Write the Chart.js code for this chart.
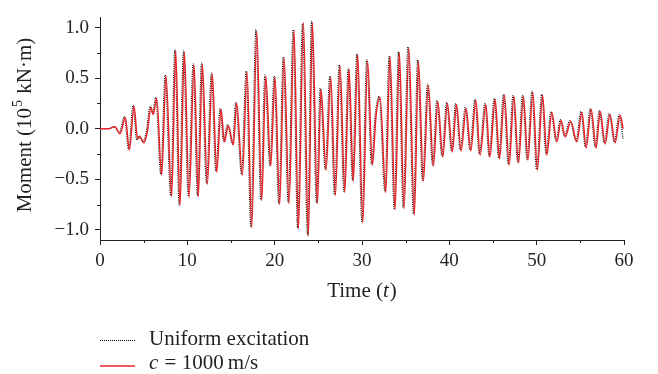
<!DOCTYPE html>
<html>
<head>
<meta charset="utf-8">
<script src="https://cdn.jsdelivr.net/npm/chart.js@4/dist/chart.umd.min.js"></script>
<style>
  html, body { margin: 0; padding: 0; background: #fff; }
  #chart { display: block; }
</style>
</head>
<body>
<canvas id="chart" width="658" height="374"></canvas>
<script>
// Peaks / troughs (time in s, moment in 10^5 kN·m)
const waveT = [0, 1.0, 1.7, 2.3, 2.9, 3.36, 3.9, 4.3, 4.6, 5.0, 5.4, 5.84, 6.1, 6.49, 7.06, 7.56, 8.2, 8.67, 9.16, 9.66,
  10.2, 10.77, 11.26, 11.72, 12.29, 12.86, 13.36, 13.86, 14.24, 14.7, 15.27, 15.65, 16.3, 16.84, 17.37, 17.95, 18.52, 18.98, 19.55,
  20.04, 20.57, 21.08, 21.65, 22.22, 22.72, 23.29, 23.86, 24.32, 24.89, 25.31, 25.89, 26.42, 26.95, 27.49, 28.03, 28.52, 29.01, 29.51,
  30.09, 30.64, 31.19, 31.6, 32.07, 32.72, 33.21, 33.79, 34.28, 34.82, 35.36, 36.0, 36.46, 37.03, 37.6, 38.18, 38.68, 39.25, 39.78,
  40.35, 40.82, 41.35, 41.92, 42.46, 43.03, 43.53, 44.18, 44.64, 45.25, 45.74, 46.31, 46.85, 47.39, 47.92, 48.49, 48.99, 49.56,
  50.08, 50.68, 51.17, 51.74, 52.31, 52.8, 53.26, 53.91, 54.6, 55.18, 55.67, 56.24, 56.81, 57.27, 57.84, 58.4, 58.98, 59.56, 59.9];
const waveV = [0, 0, 0.02, -0.05, 0.11, -0.21, 0.22, -0.10, -0.08, -0.14, -0.04, 0.21, 0.14, 0.30, -0.46, 0.52, -0.67, 0.77, -0.76, 0.76,
  -0.68, 0.63, -0.67, 0.64, -0.55, 0.54, -0.43, 0.19, -0.13, 0.03, -0.16, 0.25, -0.46, 0.56, -0.98, 0.96, -0.71, 0.52, -0.37,
  0.51, -0.75, 0.70, -0.74, 0.97, -0.99, 1.05, -1.06, 1.05, -0.74, 0.39, -0.41, 0.51, -0.66, 0.62, -0.63, 0.59, -0.52, 0.73,
  -0.93, 0.67, -0.36, 0.12, 0.31, -0.63, 0.71, -0.80, 0.75, -0.79, 0.80, -0.85, 0.67, -0.52, 0.43, -0.37, 0.27, -0.28, 0.25,
  -0.23, 0.24, -0.22, 0.20, -0.22, 0.28, -0.26, 0.24, -0.28, 0.29, -0.30, 0.33, -0.36, 0.32, -0.34, 0.32, -0.31, 0.36,
  -0.41, 0.33, -0.26, 0.16, -0.13, 0.08, -0.08, 0.07, -0.13, 0.16, -0.19, 0.19, -0.19, 0.17, -0.15, 0.14, -0.14, 0.13, 0.0];

const uniformT = [0, 1.0, 1.6, 2.2, 2.8, 3.26, 3.8, 4.2, 4.5, 4.9, 5.3, 5.74, 6.0, 6.39, 6.96, 7.46, 8.1, 8.57, 9.06, 9.56,
  10.1, 10.67, 11.16, 11.62, 12.19, 12.76, 13.26, 13.76, 14.14, 14.6, 15.17, 15.55, 16.2, 16.74, 17.27, 17.85, 18.42, 18.88, 19.45,
  19.94, 20.47, 20.98, 21.55, 22.12, 22.62, 23.19, 23.76, 24.22, 24.79, 25.21, 25.79, 26.32, 26.85, 27.39, 27.93, 28.42, 28.91, 29.41,
  29.99, 30.54, 31.09, 31.5, 31.97, 32.62, 33.11, 33.69, 34.18, 34.72, 35.26, 35.9, 36.36, 36.93, 37.5, 38.08, 38.58, 39.15, 39.68,
  40.25, 40.72, 41.25, 41.82, 42.36, 42.93, 43.43, 44.08, 44.54, 45.15, 45.64, 46.21, 46.75, 47.29, 47.82, 48.39, 48.89, 49.46,
  49.98, 50.58, 51.07, 51.64, 52.21, 52.7, 53.16, 53.81, 54.5, 55.08, 55.57, 56.14, 56.71, 57.17, 57.74, 58.3, 58.88, 59.46, 59.9];
const uniformV = [0, 0, 0.02, -0.04, 0.12, -0.20, 0.23, -0.11, -0.07, -0.13, -0.03, 0.22, 0.15, 0.31, -0.45, 0.53, -0.66, 0.78, -0.75, 0.77,
  -0.66, 0.64, -0.66, 0.65, -0.54, 0.55, -0.42, 0.20, -0.12, 0.04, -0.15, 0.26, -0.45, 0.57, -0.97, 0.98, -0.70, 0.53, -0.36,
  0.52, -0.74, 0.71, -0.73, 0.98, -0.98, 1.04, -1.05, 1.06, -0.73, 0.40, -0.40, 0.52, -0.65, 0.63, -0.62, 0.60, -0.51, 0.74,
  -0.92, 0.68, -0.35, 0.13, 0.32, -0.62, 0.72, -0.79, 0.76, -0.78, 0.81, -0.84, 0.68, -0.51, 0.44, -0.36, 0.28, -0.27, 0.26,
  -0.22, 0.25, -0.21, 0.21, -0.21, 0.29, -0.25, 0.25, -0.27, 0.30, -0.29, 0.34, -0.35, 0.33, -0.33, 0.33, -0.30, 0.37,
  -0.40, 0.34, -0.25, 0.17, -0.12, 0.09, -0.07, 0.08, -0.12, 0.17, -0.18, 0.20, -0.18, 0.18, -0.14, 0.15, -0.13, 0.14, -0.10];

const xMajor = [0, 10, 20, 30, 40, 50, 60];
const xMinor = [5, 15, 25, 35, 45, 55];
const yMajor = [-1.0, -0.5, 0.0, 0.5, 1.0];
const yMinor = [-0.75, -0.25, 0.25, 0.75];

const FONT = "'Liberation Serif', 'DejaVu Serif', serif";
const INK = '#231f20';

const pts = (t, v) => t.map((x, i) => ({ x, y: v[i] }));

// minor ticks, axis titles and the stacked legend
const extras = {
  id: 'extras',
  afterDraw(chart) {
    const { ctx, scales: { x, y } } = chart;
    ctx.save();
    ctx.strokeStyle = INK;
    ctx.lineWidth = 1;
    ctx.beginPath();
    xMinor.forEach(v => {
      const px = Math.round(x.getPixelForValue(v)) + 0.5;
      ctx.moveTo(px, x.top); ctx.lineTo(px, x.top + 3);
    });
    yMinor.forEach(v => {
      const py = Math.round(y.getPixelForValue(v)) + 0.5;
      ctx.moveTo(y.right, py); ctx.lineTo(y.right - 3, py);
    });
    ctx.stroke();

    ctx.fillStyle = INK;
    ctx.textBaseline = 'middle';
    ctx.textAlign = 'left';

    const f = '21px ' + FONT, fi = 'italic 21px ' + FONT, fs = '14px ' + FONT;

    // x title: Time (t)
    ctx.font = f;
    const a = 'Time (', c = ')';
    const wa = ctx.measureText(a).width, wc = ctx.measureText(c).width;
    ctx.font = fi;
    const wb = ctx.measureText('t').width + 1;
    const sx = 362 - (wa + wb + wc) / 2;
    ctx.font = f; ctx.fillText(a, sx, 291);
    ctx.font = fi; ctx.fillText('t', sx + wa, 291);
    ctx.font = f; ctx.fillText(c, sx + wa + wb, 291);

    // y title: Moment (10^5 kN·m)
    ctx.save();
    ctx.translate(25, 125);
    ctx.rotate(-Math.PI / 2);
    const p1 = 'Moment (10', p2 = '5', p3 = ' kN\u00b7m)';
    ctx.font = f;
    const w1 = ctx.measureText(p1).width, w3 = ctx.measureText(p3).width;
    ctx.font = fs;
    const w2 = ctx.measureText(p2).width + 2;
    const s = -(w1 + w2 + w3) / 2;
    ctx.font = f; ctx.fillText(p1, s, 0);
    ctx.font = fs; ctx.fillText(p2, s + w1 + 1, -7);
    ctx.font = f; ctx.fillText(p3, s + w1 + w2, 0);
    ctx.restore();

    // legend
    ctx.lineWidth = 1;
    ctx.strokeStyle = '#000';
    ctx.setLineDash([1, 1]);
    ctx.beginPath(); ctx.moveTo(100, 340.5); ctx.lineTo(135, 340.5); ctx.stroke();
    ctx.setLineDash([]);
    ctx.strokeStyle = '#e8262a';
    ctx.lineWidth = 1.3;
    ctx.beginPath(); ctx.moveTo(100, 366); ctx.lineTo(135, 366); ctx.stroke();
    ctx.font = f;
    ctx.fillText('Uniform excitation', 149, 339);
    ctx.font = fi; ctx.fillText('c', 149, 363);
    const wcv = ctx.measureText('c').width;
    ctx.font = f; ctx.fillText(' = 1000\u2009m/s', 149 + wcv + 1, 363);
    ctx.restore();
  }
};

new Chart(document.getElementById('chart'), {
  type: 'line',
  data: {
    datasets: [
      {
        label: 'Uniform excitation',
        data: pts(uniformT, uniformV),
        borderColor: '#000',
        borderWidth: 1.2,
        borderDash: [1, 1.2],
        pointRadius: 0,
        cubicInterpolationMode: 'monotone',
        order: 1
      },
      {
        label: 'c = 1000 m/s',
        data: pts(waveT, waveV),
        borderColor: '#e8262a',
        borderWidth: 1.5,
        pointRadius: 0,
        cubicInterpolationMode: 'monotone',
        order: 0
      }
    ]
  },
  options: {
    responsive: false,
    animation: false,
    layout: { padding: { top: 10, right: 34, left: 0, bottom: 0 } },
    plugins: { legend: { display: false }, tooltip: { enabled: false } },
    scales: {
      x: {
        type: 'linear',
        min: 0, max: 60,
        afterFit: s => { s.height = 134; },
        afterBuildTicks: s => { s.ticks = xMajor.map(value => ({ value })); },
        grid: { drawOnChartArea: false, tickLength: 5, color: INK },
        border: { color: INK, width: 1 },
        ticks: { color: INK, font: { family: FONT, size: 19 }, padding: 5, maxRotation: 0 }
      },
      y: {
        min: -1.1, max: 1.1,
        afterFit: s => { s.width = 100; },
        afterBuildTicks: s => { s.ticks = yMajor.map(value => ({ value })); },
        grid: { drawOnChartArea: false, tickLength: 5, color: INK },
        border: { color: INK, width: 1 },
        ticks: {
          color: INK, font: { family: FONT, size: 19 }, padding: 6,
          callback: v => (v < 0 ? '\u2212' + Math.abs(v).toFixed(1) : v.toFixed(1))
        }
      }
    }
  },
  plugins: [extras]
});
</script>
</body>
</html>
